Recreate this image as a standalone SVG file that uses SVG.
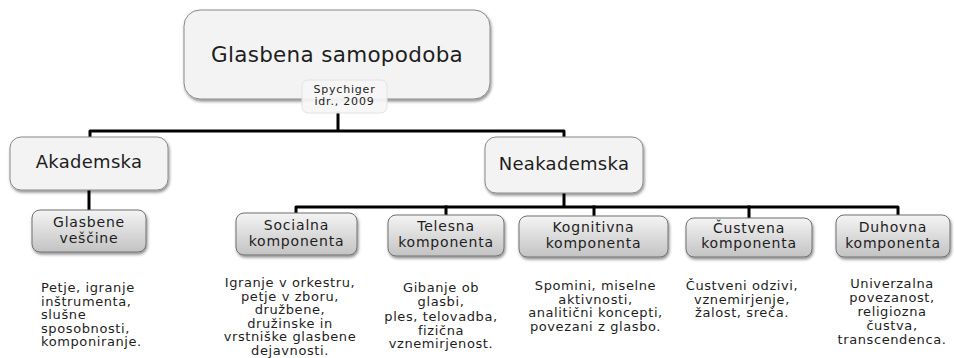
<svg xmlns="http://www.w3.org/2000/svg" width="954" height="358" viewBox="0 0 954 358">
<defs>
<filter id="sh" x="-10%" y="-10%" width="130%" height="140%">
<feDropShadow dx="1" dy="2" stdDeviation="1.5" flood-color="#000" flood-opacity="0.45"/>
</filter>
<linearGradient id="g" x1="0" y1="0" x2="0" y2="1">
<stop offset="0" stop-color="#f4f4f4"/>
<stop offset="1" stop-color="#c3c3c3"/>
</linearGradient>
</defs>
<style>
.conn{stroke:#000;stroke-width:3;fill:none;stroke-linejoin:round;stroke-linecap:square}
.main{fill:#f3f3f3;stroke:#8a8a8a;stroke-width:1;filter:url(#sh)}
.sub{fill:url(#g);stroke:#707070;stroke-width:1;filter:url(#sh)}
.note{fill:#f6f6f6;fill-opacity:0.92;stroke:#e2e2e2;stroke-width:1}
text{font-family:"DejaVu Sans",sans-serif;fill:#1e1e1e}
.t1{font-size:21.5px;letter-spacing:0.3px;text-anchor:middle}
.t2{font-size:18px;letter-spacing:0.3px;text-anchor:middle}
.t3{font-size:14px;letter-spacing:0.8px;text-anchor:middle}
.t4{font-size:11px;letter-spacing:0.8px;text-anchor:middle}
.d{font-size:13px;letter-spacing:0.6px;text-anchor:middle}
.dl{font-size:13px;letter-spacing:0.6px;text-anchor:start}
</style>
<g id="connectors">
<path class="conn" d="M338 113 V131 M90 137 V131 H564 V137"/>
<path class="conn" d="M89 190 V210"/>
<path class="conn" d="M564 193 V207 M296 213 V207 H898 V215"/>
<path class="conn" d="M446 207 V215 M594 207 V216 M749 207 V218"/>
</g>
<g id="root">
<rect class="main" x="184" y="10" width="306" height="89" rx="16"/>
<text class="t1" x="337" y="62">Glasbena samopodoba</text>
</g>
<g id="source">
<rect class="note" x="302" y="80" width="85" height="33" rx="6"/>
<text class="t4" x="344.5" y="93">Spychiger</text>
<text class="t4" x="344.5" y="104.5">idr., 2009</text>
</g>
<g id="akademska">
<rect class="main" x="10" y="137" width="158" height="53" rx="11"/>
<text class="t2" x="89" y="168">Akademska</text>
</g>
<g id="neakademska">
<rect class="main" x="485" y="137" width="158" height="56" rx="11"/>
<text class="t2" x="564" y="170">Neakademska</text>
</g>
<g id="glasbene">
<rect class="sub" x="32" y="210" width="114" height="42" rx="8"/>
<text class="t3" x="89" y="227">Glasbene</text>
<text class="t3" x="89" y="242.5">veščine</text>
</g>
<g id="socialna">
<rect class="sub" x="236" y="213" width="121" height="42" rx="8"/>
<text class="t3" x="296.5" y="230">Socialna</text>
<text class="t3" x="296.5" y="246">komponenta</text>
</g>
<g id="telesna">
<rect class="sub" x="388" y="215" width="116" height="41" rx="8"/>
<text class="t3" x="446" y="231">Telesna</text>
<text class="t3" x="446" y="247">komponenta</text>
</g>
<g id="kognitivna">
<rect class="sub" x="519" y="216" width="149" height="41" rx="8"/>
<text class="t3" x="593.5" y="232">Kognitivna</text>
<text class="t3" x="593.5" y="247.5">komponenta</text>
</g>
<g id="custvena">
<rect class="sub" x="686" y="218" width="126" height="39" rx="8"/>
<text class="t3" x="749" y="233">Čustvena</text>
<text class="t3" x="749" y="248">komponenta</text>
</g>
<g id="duhovna">
<rect class="sub" x="836" y="215" width="114" height="42" rx="8"/>
<text class="t3" x="893" y="232">Duhovna</text>
<text class="t3" x="893" y="248">komponenta</text>
</g>
<g id="desc-glasbene">
<text class="dl" x="41" y="292">Petje, igranje</text>
<text class="dl" x="41" y="305.5">inštrumenta,</text>
<text class="dl" x="41" y="319">slušne</text>
<text class="dl" x="41" y="332.5">sposobnosti,</text>
<text class="dl" x="41" y="346">komponiranje.</text>
</g>
<g id="desc-socialna">
<text class="d" x="290" y="287">Igranje v orkestru,</text>
<text class="d" x="290" y="300.5">petje v zboru,</text>
<text class="d" x="290" y="314">družbene,</text>
<text class="d" x="290" y="327.5">družinske in</text>
<text class="d" x="290" y="341">vrstniške glasbene</text>
<text class="d" x="290" y="354.5">dejavnosti.</text>
</g>
<g id="desc-telesna">
<text class="d" x="441" y="291.5">Gibanje ob</text>
<text class="d" x="441" y="305.5">glasbi,</text>
<text class="d" x="441" y="321">ples, telovadba,</text>
<text class="d" x="441" y="334.5">fizična</text>
<text class="d" x="441" y="348">vznemirjenost.</text>
</g>
<g id="desc-kognitivna">
<text class="d" x="595.5" y="290">Spomini, miselne</text>
<text class="d" x="595.5" y="303.5">aktivnosti,</text>
<text class="d" x="595.5" y="317">analitični koncepti,</text>
<text class="d" x="595.5" y="330.5">povezani z glasbo.</text>
</g>
<g id="desc-custvena">
<text class="d" x="742" y="290">Čustveni odzivi,</text>
<text class="d" x="742" y="303.5">vznemirjenje,</text>
<text class="d" x="742" y="317">žalost, sreča.</text>
</g>
<g id="desc-duhovna">
<text class="d" x="892" y="288">Univerzalna</text>
<text class="d" x="892" y="302">povezanost,</text>
<text class="d" x="892" y="316">religiozna</text>
<text class="d" x="892" y="330">čustva,</text>
<text class="d" x="892" y="344">transcendenca.</text>
</g>
</svg>
